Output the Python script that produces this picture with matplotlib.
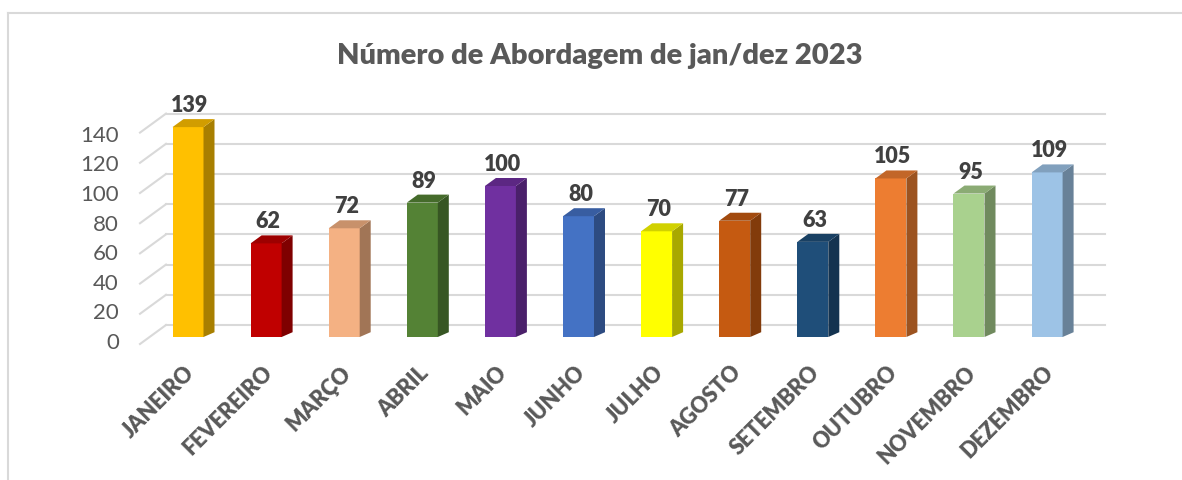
import numpy as np
import matplotlib.pyplot as plt
from matplotlib.patches import Polygon
from matplotlib.lines import Line2D
from matplotlib.colors import to_rgb

plt.rcParams['font.family'] = ['Lato', 'DejaVu Sans']

months = ['JANEIRO', 'FEVEREIRO', 'MARÇO', 'ABRIL', 'MAIO', 'JUNHO',
          'JULHO', 'AGOSTO', 'SETEMBRO', 'OUTUBRO', 'NOVEMBRO', 'DEZEMBRO']
values = [139, 62, 72, 89, 100, 80, 70, 77, 63, 105, 95, 109]
colors = ['#FFC000', '#C00000', '#F4B183', '#548235', '#7030A0', '#4472C4',
          '#FFFF00', '#C55A11', '#1F4E79', '#ED7D31', '#A9D18E', '#9DC3E6']
yticks = [0, 20, 40, 60, 80, 100, 120, 140]
title = 'Número de Abordagem de jan/dez 2023'

W, H = 1182, 481
fig = plt.figure(figsize=(W / 100, H / 100), dpi=100)

# axes in pixel terms: x from px 140 to 1105, y=0 at px 338, 1.51 px per unit
ppx = 78.1
x0 = (140 - 188) / ppx
x1 = (1105 - 188) / ppx
ppy = 1.51
ax_bottom = (H - 338) / H
ax_top_px = 95
ylim_top = (338 - ax_top_px) / ppy
ax = fig.add_axes([140 / W, ax_bottom, (1105 - 140) / W, (338 - ax_top_px) / H])
ax.set_xlim(x0, x1)
ax.set_ylim(0, ylim_top)
ax.axis('off')

grid_c = '#d9d9d9'
back_x0 = (166 - 188) / ppx
front_dy = -7 / ppy
back_dy = 12 / ppy
for t in yticks:
    ax.add_line(Line2D([back_x0, x1], [t + back_dy, t + back_dy], color=grid_c,
                       lw=1.5, clip_on=False, zorder=1))
    ax.add_line(Line2D([x0, back_x0], [t + front_dy, t + back_dy], color=grid_c,
                       lw=1.5, clip_on=False, zorder=1))
    # front-plane labels sit on a slightly flatter scale (perspective)
    ax.text(x0 - 21 / ppx, t * 1.48 / ppy - 5 / ppy, str(t), ha='right', va='center',
            fontsize=16, color='#595959', clip_on=False)


def shade(c, f):
    r, g, b = to_rgb(c)
    return (r * f, g * f, b * f)


bw = 31 / ppx
dx = 11 / ppx
dy = 8 / ppy
xs = np.arange(len(values))
for x, v, c in zip(xs, values, colors):
    l, r = x - bw / 2, x + bw / 2
    ax.bar(x, v, width=bw, color=c, zorder=3, linewidth=0)
    ax.add_patch(Polygon([(r, 0), (r, v), (r + dx, v + dy), (r + dx, dy * 0.6)],
                         closed=True, facecolor=shade(c, 0.66), lw=0, zorder=3))
    ax.add_patch(Polygon([(l, v), (r, v), (r + dx, v + dy), (l + dx, v + dy)],
                         closed=True, facecolor=shade(c, 0.82), lw=0, zorder=3))
    ax.text(x + 2 / ppx, v + dy + 4 / ppy, str(v), ha='center', va='bottom',
            fontsize=15.5, fontweight='heavy', color='#404040', zorder=4)
    ax.text(x - 4 / ppx, -24 / ppy, months[x], rotation=45, ha='right', va='top',
            rotation_mode='anchor', fontsize=15.5, fontweight='heavy',
            color='#595959', clip_on=False)

fig.text(600 / W, 1 - 56 / H, title, ha='center', va='center', fontsize=21,
         fontweight='heavy', color='#595959')

# chart frame (top and left edges visible)
frame_c = '#d9d9d9'
fig.add_artist(Line2D([8 / W, 1], [1 - 14 / H, 1 - 14 / H], color=frame_c, lw=1.5))
fig.add_artist(Line2D([8 / W, 8 / W], [0, 1 - 14 / H], color=frame_c, lw=1.5))

fig.savefig('out.png', dpi=100, facecolor='white')
